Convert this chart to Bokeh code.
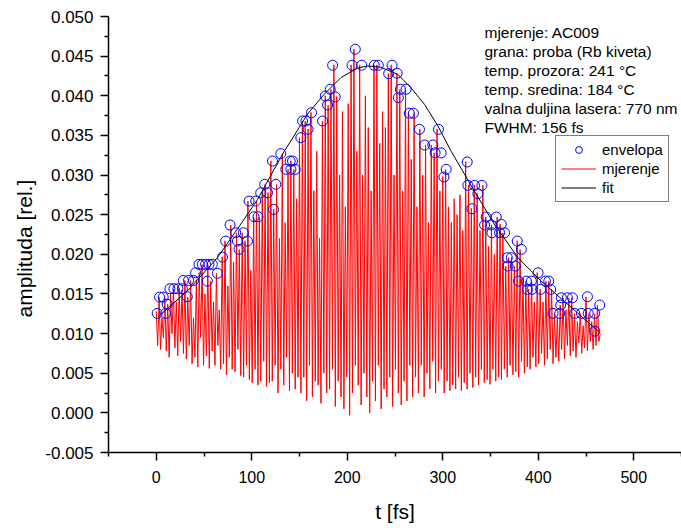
import numpy as np
from bokeh.plotting import figure
from bokeh.models import (FixedTicker, PrintfTickFormatter, Legend, LegendItem,
                          Label, Title)
from bokeh.embed import file_html
from bokeh.resources import INLINE

# ---------------- data ----------------
# measured signal "mjerenje", sampled every DT fs starting at t=0, values x 1e-4
DT = 1.5
mjerenje_1e4 = [
    128, 85, 146, 80, 120, 95, 145, 78, 137, 70, 150, 100, 156, 82, 140, 72, 157, 90, 155, 75,
    167, 68, 146, 85, 167, 62, 120, 70, 168, 58, 177, 95, 187, 60, 150, 72, 187, 56, 166, 78,
    140, 60, 176, 85, 130, 55, 197, 62, 217, 48, 160, 70, 237, 55, 190, 52, 227, 80, 206, 47,
    227, 45, 217, 60, 267, 42, 180, 38, 247, 55, 267, 35, 247, 40, 278, 65, 288, 33, 278, 38,
    318, 40, 257, 60, 288, 25, 220, 55, 327, 35, 240, 70, 307, 28, 318, 50, 307, 30, 270, 45,
    347, 25, 368, 45, 368, 15, 358, 60, 379, 20, 280, 40, 330, 35, 220, 12, 368, 50, 400, 25,
    388, 30, 408, 55, 439, 8, 399, 40, 300, 20, 380, 5, 260, 45, 390, -3, 439, 25, 459, 60,
    330, 35, 439, 10, 300, 50, 400, 20, 360, 0, 280, 40, 439, 15, 439, 60, 340, 5, 380, 30,
    360, 20, 428, 45, 439, 8, 300, 55, 428, 25, 408, 10, 280, 40, 408, 15, 378, 60, 320, 20,
    378, 45, 260, 25, 358, 60, 300, 20, 338, 50, 240, 30, 338, 65, 328, 25, 358, 40, 280, 55,
    298, 25, 307, 40, 260, 28, 240, 35, 270, 30, 250, 45, 275, 28, 230, 38, 317, 30, 287, 50,
    258, 32, 287, 45, 277, 35, 230, 55, 287, 38, 247, 42, 210, 36, 237, 55, 200, 40, 247, 45,
    238, 42, 227, 55, 185, 45, 196, 60, 196, 48, 185, 52, 217, 45, 206, 65, 170, 50, 166, 58,
    156, 55, 166, 70, 140, 58, 177, 62, 156, 75, 140, 60, 166, 68, 166, 80, 156, 62, 125, 70,
    120, 65, 136, 80, 145, 68, 130, 85, 145, 72, 145, 78, 125, 70, 115, 88, 125, 75, 110, 82,
    146, 78, 125, 90, 115, 80, 125, 85, 136, 90, 100,
]

# envelope points ("envelopa")
env_t = [1, 3.5, 7.3, 9.8, 11.5, 14.3, 18.5, 22.7, 27.3, 28.3, 32.5, 33.8, 39, 41.2,
         44.7, 48.2, 51.7, 53.5, 55.2, 58.7, 64, 69.3, 72.7, 77.3, 83.2, 85, 86.7,
         91.3, 95.5, 97.2, 102.4, 104.2, 106.6, 109.4, 113.6, 116.5, 121.7, 122.8,
         125.2, 130.4, 135.7, 140.2, 141, 142.7, 145.4, 151.4, 153.2, 156.7, 159,
         162.6, 174.2, 177, 179.4, 182.2, 184.7, 187.4, 205, 208.4, 215.1, 228.3,
         232.5, 243.4, 246.9, 252.2, 253.5, 255.6, 261.6, 265, 269.3, 275.6, 281,
         289.6, 292, 295.5, 298.3, 301.2, 303.6, 325.6, 326.3, 330.5, 333.3, 336.8,
         341, 343.8, 345.5, 350.8, 351.5, 356, 359.5, 361.3, 364.7, 367.6, 368.3,
         371.8, 376, 378, 379.4, 382.3, 387.5, 388.6, 392.8, 393.5, 399.8, 402.5,
         407.5, 411, 413, 415.5, 422.5, 423.5, 424.2, 430.5, 435.8, 438.2, 445.2,
         451.5, 452.3, 459.2, 459.2, 464.4]
env_y = [0.01255, 0.0146, 0.0146, 0.01255, 0.0137, 0.01566, 0.01566, 0.01566, 0.01566,
         0.0167, 0.01465, 0.0167, 0.0167, 0.01768, 0.01873, 0.01873, 0.01873, 0.01662,
         0.01873, 0.01873, 0.0176, 0.01965, 0.02167, 0.0237, 0.02272, 0.02167, 0.02063,
         0.02272, 0.02167, 0.02672, 0.02474, 0.02672, 0.02474, 0.02777, 0.02883, 0.02777,
         0.03177, 0.02567, 0.02883, 0.0327, 0.03072, 0.03177, 0.03072, 0.03177, 0.03072,
         0.03471, 0.03682, 0.03682, 0.03577, 0.03787, 0.03682, 0.03998, 0.03884, 0.04082,
         0.04385, 0.03985, 0.04385, 0.04587, 0.04385, 0.04385, 0.04385, 0.04279, 0.04385,
         0.04284, 0.03976, 0.04082, 0.04082, 0.0378, 0.0378, 0.03577, 0.03379, 0.03379,
         0.0328, 0.03577, 0.0328, 0.02975, 0.03072, 0.03165, 0.0287, 0.02575, 0.0287,
         0.02765, 0.0287, 0.0237, 0.0247, 0.0237, 0.02272, 0.0247, 0.02272, 0.02378,
         0.02272, 0.01957, 0.01852, 0.01957, 0.01852, 0.02167, 0.01662, 0.02063, 0.01662,
         0.01558, 0.01662, 0.01558, 0.01767, 0.01558, 0.01662, 0.01662, 0.01558, 0.01255,
         0.01255, 0.0136, 0.01452, 0.01452, 0.01452, 0.01255, 0.01255, 0.01465, 0.01255,
         0.01255, 0.01031, 0.0136]

# fitted curve ("fit")
fit_t = [2.7, 32.5, 64, 88.5, 106, 123.4, 134, 141, 158.4, 176, 193.4, 211, 221.4,
         235, 253, 266.8, 281, 294.9, 308.8, 333, 354, 378.8, 403, 431, 462.7]
fit_y = [0.0122, 0.01536, 0.01957, 0.0238, 0.0269, 0.0307, 0.0330, 0.0343, 0.0377,
         0.0402, 0.0423, 0.0435, 0.04376, 0.0436, 0.0427, 0.0410, 0.0389, 0.0362,
         0.0330, 0.0280, 0.0238, 0.01957, 0.01662, 0.01368, 0.01031]

info_lines = ["mjerenje: AC009", "grana: proba (Rb kiveta)", "temp. prozora: 241 °C",
              "temp. sredina: 184 °C", "valna duljina lasera: 770 nm", "FWHM: 156 fs"]

x_ticks = [0, 100, 200, 300, 400, 500]
x_minor = [-50, 50, 150, 250, 350, 450, 550]
y_ticks = [-0.005, 0.0, 0.005, 0.010, 0.015, 0.020, 0.025, 0.030, 0.035, 0.040, 0.045, 0.050]

# ---------------- layout ----------------
W, H = 681, 528
XMIN, XMAX = -50, 550
YMIN, YMAX = -0.005, 0.050
FL, FR, FT, FB = 108, 681, 16, 452   # frame edges in px
FONT = "Liberation Sans"


def sx(px):
    return XMIN + (px - FL) / (FR - FL) * (XMAX - XMIN)


def sy(py):
    return YMIN + (FB - py) / (FB - FT) * (YMAX - YMIN)


p = figure(width=W, height=H, x_range=(XMIN, XMAX), y_range=(YMIN, YMAX),
           output_backend="svg", toolbar_location=None,
           min_border_left=FL, min_border_right=W - FR, min_border_top=FT,
           min_border_bottom=H - FB)
p.outline_line_color = None
p.xgrid.visible = False
p.ygrid.visible = False
p.background_fill_color = "white"
p.border_fill_color = "white"

t_m = np.arange(len(mjerenje_1e4)) * DT
y_m = np.array(mjerenje_1e4) * 1e-4

r_m = p.line(t_m, y_m, line_color="#ff0000", line_width=1)
r_f = p.line(fit_t, fit_y, line_color="black", line_width=1)
r_e = p.scatter(env_t, env_y, marker="circle", size=10, line_color="#0000ff",
                fill_color=None, line_width=1)

# axes
xa = p.xaxis[0]
xa.ticker = FixedTicker(ticks=x_ticks, minor_ticks=x_minor)
xa.axis_label = "t [fs]"
ya = p.yaxis[0]
ya.ticker = FixedTicker(ticks=y_ticks,
                        minor_ticks=[round(v + 0.0025, 4) for v in y_ticks])
ya.formatter = PrintfTickFormatter(format="%.3f")
for ax in (xa, ya):
    ax.axis_line_color = "black"
    ax.axis_line_width = 1.5
    ax.major_tick_line_color = "black"
    ax.major_tick_line_width = 1.5
    ax.minor_tick_line_color = "black"
    ax.minor_tick_line_width = 1.5
    ax.major_tick_in = 0
    ax.major_tick_out = 8
    ax.minor_tick_in = 0
    ax.minor_tick_out = 4
    ax.major_label_text_font = FONT
    ax.major_label_text_color = "black"
    ax.axis_label_text_font = FONT
    ax.axis_label_text_font_size = "21px"
    ax.axis_label_text_font_style = "normal"
    ax.axis_label_text_color = "black"
xa.major_label_text_font_size = "16px"
ya.major_label_text_font_size = "17px"
xa.major_label_standoff = 10
xa.axis_label_standoff = 14
ya.major_label_standoff = 7

# y axis title: left panel title, its start placed 135 px above the frame bottom
p.add_layout(Title(text="amplituda [rel.]", align="left", offset=135,
                   text_font=FONT, text_font_size="21px", text_font_style="normal",
                   text_color="black", standoff=14), "left")

# info text block
for i, line in enumerate(info_lines):
    p.add_layout(Label(x=sx(484), y=sy(32.3 + 18.9 * i), text=line,
                       text_align="left", text_baseline="middle",
                       text_font=FONT, text_font_size="15.5px", text_color="black"))

legend = Legend(items=[LegendItem(label="envelopa", renderers=[r_e]),
                       LegendItem(label="mjerenje", renderers=[r_m]),
                       LegendItem(label="fit", renderers=[r_f])],
                location=(555 - FL, FB - 202))
legend.label_text_font = FONT
legend.label_text_font_size = "15px"
legend.label_text_color = "black"
legend.glyph_width = 35
legend.glyph_height = 17
legend.label_height = 17
legend.label_standoff = 6
legend.spacing = 2
legend.padding = 5
legend.margin = 0
legend.border_line_color = "black"
legend.border_line_width = 1
legend.background_fill_alpha = 1
p.add_layout(legend)

open("out.html", "w").write(file_html(p, INLINE))
